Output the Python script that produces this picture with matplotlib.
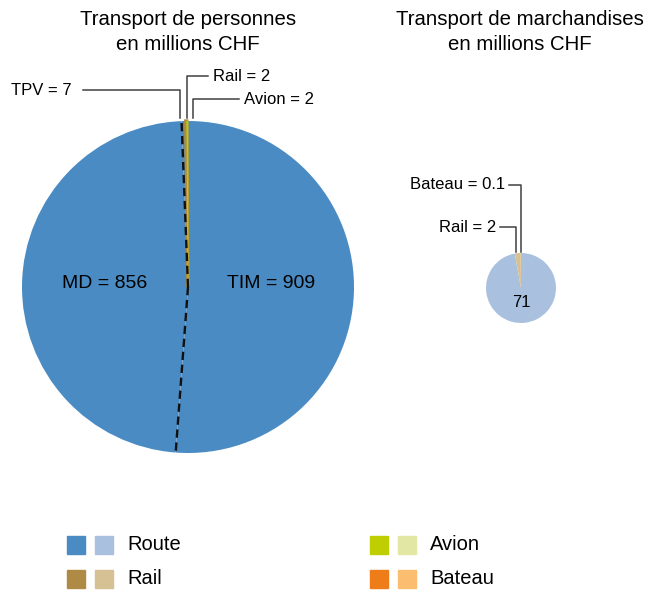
import numpy as np
import matplotlib
matplotlib.use("Agg")
from matplotlib import pyplot as plt

plt.rcParams['font.family'] = ['Liberation Sans', 'DejaVu Sans']

# Transport de personnes (millions CHF)
pers_labels = ['TIM', 'MD', 'TPV', 'Rail', 'Avion']
pers_values = [909, 856, 7, 2, 2]
# Transport de marchandises (millions CHF)
march_labels = ['Route', 'Rail', 'Bateau']
march_values = [71, 2, 0.1]

legend_names = ['Route', 'Rail', 'Avion', 'Bateau']
dark_cols = ['#4A8BC3', '#AE8A45', '#BECE00', '#EE7D19']
light_cols = ['#A9C1DF', '#D6C194', '#E2E8A3', '#FBBD70']

pers_cols = [dark_cols[0], dark_cols[0], dark_cols[0], dark_cols[1], dark_cols[2]]
march_cols = [light_cols[0], light_cols[1], light_cols[3]]

W, H = 648, 590
fig = plt.figure(figsize=(W / 100, H / 100), dpi=100)

def px_axes(cx, cy, r):
    return fig.add_axes([(cx - r) / W, 1 - (cy + r) / H, 2 * r / W, 2 * r / H])

fs = 14      # labels inside pie
fs_ann = 12  # leader line labels
fs_tit = 14.7
fs_leg = 14.5
lc = '#404040'

# ---- left pie
ax1 = px_axes(188, 287, 166)
w1, _ = ax1.pie(pers_values, colors=pers_cols, startangle=90, counterclock=False,
                radius=1, wedgeprops=dict(linewidth=0))
# tiny slices get an outline in their own colour so they stay visible
w1[3].set_edgecolor(pers_cols[3])
w1[3].set_linewidth(2.4)
w1[4].set_edgecolor(pers_cols[4])
w1[4].set_linewidth(0.5)
ax1.set_xlim(-1, 1)
ax1.set_ylim(-1, 1)
ax1.set_aspect('equal')
ax1.axis('off')

# dashed border of MD slice
md = w1[1]
for th in (md.theta1, md.theta2):
    t = np.deg2rad(th)
    ax1.plot([0, np.cos(t)], [0, np.sin(t)], color='#111111', ls=(0, (3.5, 2)), lw=1.7)

ax1.text(-0.5, 0.02, 'MD = %d' % pers_values[1], ha='center', va='center', fontsize=fs)
ax1.text(0.5, 0.02, 'TIM = %d' % pers_values[0], ha='center', va='center', fontsize=fs)

# leader lines for the tiny slices (x spread a little so they don't overlap)
spread = {2: -0.022, 3: 0.005, 4: 0.034}
lab_y = {2: 1.185, 3: 1.27, 4: 1.13}
for i in (2, 3, 4):
    wd = w1[i]
    t = np.deg2rad((wd.theta1 + wd.theta2) / 2)
    x0 = np.cos(t) + spread[i]
    y0 = np.sin(t) + 0.02
    y1 = lab_y[i]
    txt = '%s = %g' % (pers_labels[i], pers_values[i])
    if i == 2:
        x2 = -0.63
        ax1.plot([x0, x0, x2], [y0, y1, y1], color=lc, lw=1.1, clip_on=False)
        ax1.text(x2 - 0.07, y1, txt, ha='right', va='center', fontsize=fs_ann)
    else:
        x2 = 0.12 if i == 3 else 0.31
        ax1.plot([x0, x0, x2], [y0, y1, y1], color=lc, lw=1.1, clip_on=False)
        ax1.text(x2 + 0.03, y1, txt, ha='left', va='center', fontsize=fs_ann)

# ---- right pie
ax2 = px_axes(521, 288, 35)
w2, _ = ax2.pie(march_values, colors=march_cols, startangle=90, counterclock=False,
                radius=1, wedgeprops=dict(linewidth=0))
ax2.set_xlim(-1, 1)
ax2.set_ylim(-1, 1)
ax2.set_aspect('equal')
ax2.axis('off')
ax2.text(0, -0.42, '%d' % march_values[0], ha='center', va='center', fontsize=fs_ann)

r_spread = {1: -0.06, 2: 0.0}
r_y = {1: 1.74, 2: 2.95}
r_x2 = {1: -0.6, 2: -0.33}
for i in (1, 2):
    wd = w2[i]
    t = np.deg2rad((wd.theta1 + wd.theta2) / 2)
    x0 = np.cos(t) + r_spread[i]
    y0 = np.sin(t) + 0.02
    y1 = r_y[i]
    ax2.plot([x0, x0, r_x2[i]], [y0, y1, y1], color=lc, lw=1.1, clip_on=False)
    ax2.text(r_x2[i] - 0.12, y1, '%s = %g' % (march_labels[i], march_values[i]),
             ha='right', va='center', fontsize=fs_ann)

# ---- titles
fig.text(188 / W, 1 - 32 / H, 'Transport de personnes\nen millions CHF', ha='center',
         va='center', fontsize=fs_tit, linespacing=1.45)
fig.text(520 / W, 1 - 32 / H, 'Transport de marchandises\nen millions CHF', ha='center',
         va='center', fontsize=fs_tit, linespacing=1.45)

# ---- legend
sq = 18
pos = [(67, 545), (67, 579), (370, 545), (370, 579)]
for k, name in enumerate(legend_names):
    x, y = pos[k]
    for j, col in enumerate((dark_cols[k], light_cols[k])):
        xx = x + j * 28
        fig.patches.append(plt.Rectangle((xx / W, 1 - (y + sq / 2) / H), sq / W, sq / H,
                                         transform=fig.transFigure, color=col))
    fig.text((x + 60) / W, 1 - y / H, name, ha='left', va='center', fontsize=fs_leg)

fig.savefig('out.png', dpi=100)
